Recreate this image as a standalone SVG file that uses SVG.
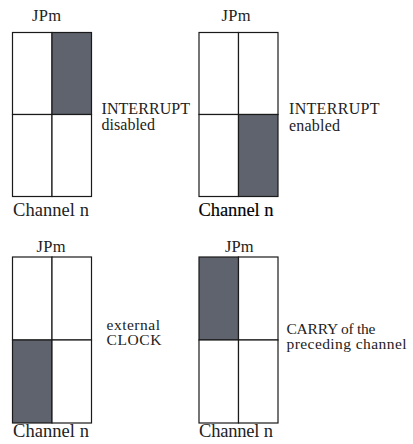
<svg xmlns="http://www.w3.org/2000/svg" width="413" height="444" viewBox="0 0 413 444">
  <style>
    .cell { fill: #fff; stroke: #1a1a1a; stroke-width: 1.2; }
    .on { fill: #5e636d; stroke: #1a1a1a; stroke-width: 1.2; }
  </style>
  <rect width="413" height="444" fill="#fff"/>

  <!-- Jumper block: INTERRUPT disabled -->
  <g id="jp-int-disabled">
    <rect class="cell" x="12.5" y="32.5" width="39.5" height="82"/>
    <rect class="on" x="52" y="32.5" width="39.5" height="82"/>
    <rect class="cell" x="12.5" y="114.5" width="39.5" height="82"/>
    <rect class="cell" x="52" y="114.5" width="39.5" height="82"/>
    <text font-family="Liberation Serif" font-size="16.5" fill="#222" x="32" y="20.5" textLength="29">JPm</text>
    <text font-family="Liberation Serif" font-size="18.5" fill="#222" x="13" y="216" textLength="76">Channel n</text>
    <text font-family="Liberation Serif" font-size="16" fill="#222" x="101.5" y="114" textLength="88.5">INTERRUPT</text>
    <text font-family="Liberation Serif" font-size="16" fill="#222" x="101.5" y="130" textLength="53.5">disabled</text>
  </g>

  <!-- Jumper block: INTERRUPT enabled -->
  <g id="jp-int-enabled">
    <rect class="cell" x="199" y="32.5" width="39.5" height="82"/>
    <rect class="cell" x="238.5" y="32.5" width="39.5" height="82"/>
    <rect class="cell" x="199" y="114.5" width="39.5" height="82"/>
    <rect class="on" x="238.5" y="114.5" width="39.5" height="82"/>
    <text font-family="Liberation Serif" font-size="16.5" fill="#222" x="221.5" y="20.5" textLength="29">JPm</text>
    <text font-family="Liberation Serif" font-size="18.5" fill="#000" stroke="#000" stroke-width="0.15" x="198.5" y="216" textLength="75">Channel n</text>
    <text font-family="Liberation Serif" font-size="16" fill="#222" x="289" y="114" textLength="90.5">INTERRUPT</text>
    <text font-family="Liberation Serif" font-size="16" fill="#222" x="289" y="131" textLength="51">enabled</text>
  </g>

  <!-- Jumper block: external CLOCK -->
  <g id="jp-ext-clock">
    <rect class="cell" x="12.5" y="257" width="39.5" height="83"/>
    <rect class="cell" x="52" y="257" width="39.5" height="83"/>
    <rect class="on" x="12.5" y="340" width="39.5" height="83"/>
    <rect class="cell" x="52" y="340" width="39.5" height="83"/>
    <text font-family="Liberation Serif" font-size="16.5" fill="#222" x="36.5" y="251.5" textLength="29">JPm</text>
    <text font-family="Liberation Serif" font-size="18.5" fill="#222" x="13" y="437" textLength="76">Channel n</text>
    <text font-family="Liberation Serif" font-size="15.5" fill="#222" x="106.5" y="330" textLength="53.5">external</text>
    <text font-family="Liberation Serif" font-size="15.5" fill="#222" x="106.5" y="344.5" textLength="55">CLOCK</text>
  </g>

  <!-- Jumper block: CARRY of the preceding channel -->
  <g id="jp-carry">
    <rect class="on" x="199" y="257" width="39.5" height="83"/>
    <rect class="cell" x="238.5" y="257" width="39.5" height="83"/>
    <rect class="cell" x="199" y="340" width="39.5" height="83"/>
    <rect class="cell" x="238.5" y="340" width="39.5" height="83"/>
    <text font-family="Liberation Serif" font-size="16.5" fill="#222" x="225" y="251.5" textLength="28.5">JPm</text>
    <text font-family="Liberation Serif" font-size="18.5" fill="#222" x="199" y="437" textLength="74">Channel n</text>
    <text font-family="Liberation Serif" font-size="15.5" fill="#222" x="286.5" y="334" textLength="89">CARRY of the</text>
    <text font-family="Liberation Serif" font-size="15.5" fill="#222" x="286.5" y="348.5" textLength="120">preceding channel</text>
  </g>

  <g id="connectors"/>
</svg>
